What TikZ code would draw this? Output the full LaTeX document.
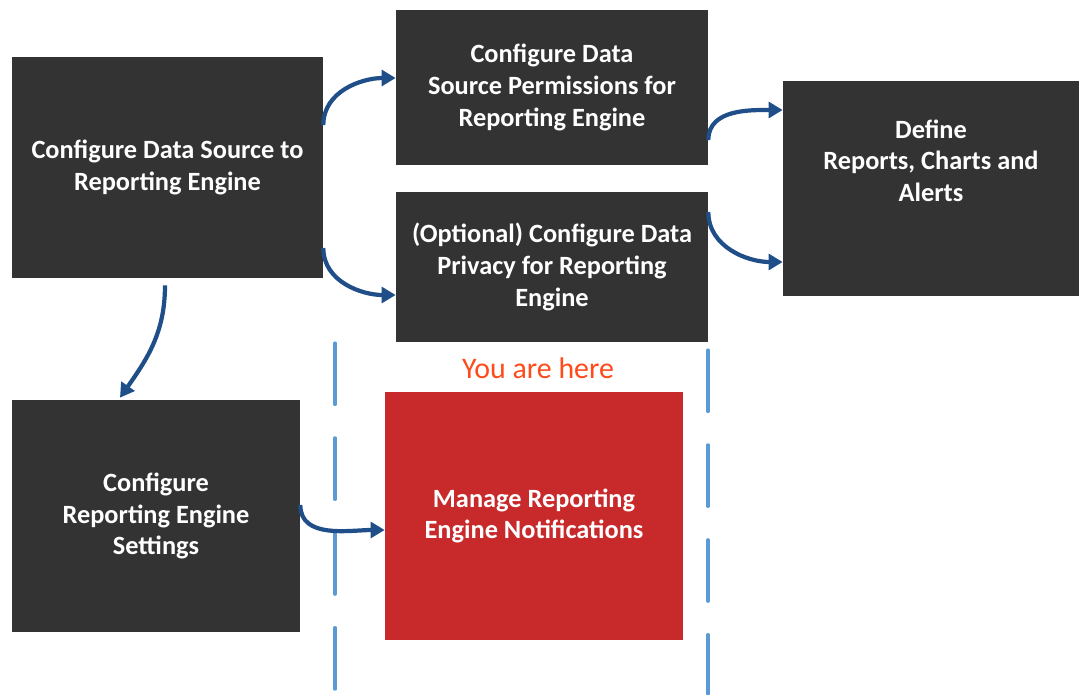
\documentclass[tikz,border=0pt]{standalone}
\usepackage{fontspec}
\setmainfont{Carlito}
\usetikzlibrary{arrows.meta,positioning,calc}
\definecolor{FlowDark}{HTML}{333333}
\definecolor{FlowRed}{HTML}{C8292B}
\definecolor{FlowBlue}{HTML}{1F4E89}
\definecolor{FlowGuide}{HTML}{5B9BD5}
\definecolor{FlowHere}{HTML}{FF4A1A}
\begin{document}
\begin{tikzpicture}[x=0.02cm,y=-0.02cm,
  stepbox/.style={fill=FlowDark,text=white,font=\fontsize{15}{18}\selectfont\bfseries,align=center,inner sep=0pt},
  flowarrow/.style={-{Triangle[length=8pt,width=9pt]},line width=2.4pt,draw=FlowBlue},
  guide/.style={draw=FlowGuide,line width=1.8pt,line cap=round,dash pattern=on 35pt off 19pt}]
\useasboundingbox (0,0) rectangle (1079,694);
% guide lines around the current step
\draw[guide] (335,343)--(335,694);
\draw[guide] (708,350)--(708,694);
% steps
\node[stepbox,minimum width=6.22cm,minimum height=4.42cm] (source) at (167.5,167.5) {Configure Data Source to\\Reporting Engine};
\node[stepbox,minimum width=6.24cm,minimum height=3.1cm] (perm) at (552,87.5) {Configure Data\\Source Permissions for\\Reporting Engine};
\node[stepbox,minimum width=6.24cm,minimum height=3.0cm] (privacy) at (552,267) {(Optional) Configure Data\\Privacy for Reporting\\Engine};
\node[stepbox,minimum width=5.92cm,minimum height=4.3cm] (define) at (931,188.5) {};
\node[stepbox,fill=none] (definetext) at ($(define.center)+(0,-28)$) {Define\\Reports, Charts and\\Alerts};
\node[stepbox,minimum width=5.76cm,minimum height=4.64cm] (settings) at (156,516) {Configure\\Reporting Engine\\Settings};
\node[stepbox,fill=FlowRed,minimum width=5.96cm,minimum height=4.96cm] (notify) at (534,516) {Manage Reporting\\Engine Notifications};
\node[text=FlowHere,font=\fontsize{17}{20}\selectfont] (here) at (538,368) {You are here};
% arrows
\draw[flowarrow] ($(source.east)+(0,-42.5)$) to[out=90,in=180] ($(perm.west)+(0,-9.5)$);
\draw[flowarrow] ($(source.east)+(0,80.5)$) to[out=-90,in=180] ($(privacy.west)+(0,28)$);
\draw[flowarrow] ($(perm.east)+(0,52.5)$) to[out=90,in=180] ($(define.west)+(0,-78.5)$);
\draw[flowarrow] ($(privacy.east)+(0,-55)$) to[out=-90,in=180] ($(define.west)+(0,73.5)$);
\draw[flowarrow] ($(source.south)+(-2.5,7)$) to[out=-90,in=55] ($(settings.north)+(-36,-2)$);
\draw[flowarrow] ($(settings.east)+(0,-11)$) to[out=-90,in=180] ($(notify.west)+(0,14)$);
\end{tikzpicture}
\end{document}
